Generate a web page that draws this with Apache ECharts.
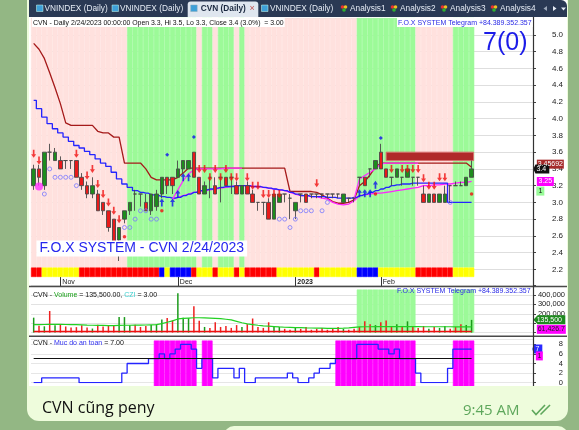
<!DOCTYPE html>
<html>
<head>
<meta charset="utf-8">
<script src="https://cdn.jsdelivr.net/npm/echarts/dist/echarts.min.js"></script>
<style>html,body{margin:0;padding:0;background:#fff;}#c{width:579px;height:430px;}</style>
</head>
<body>
<div id="c"></div>
<script>
const F = 'Liberation Sans, Arial, sans-serif';
const dates = ['10/25','10/26','10/27','10/28','10/31',
'11/1','11/2','11/3','11/4','11/7','11/8','11/9','11/10','11/11','11/14','11/15','11/16','11/17','11/18','11/21','11/22','11/23','11/24','11/25','11/28','11/29','11/30',
'12/1','12/2','12/5','12/6','12/7','12/8','12/9','12/12','12/13','12/14','12/15','12/16','12/19','12/20','12/21','12/22','12/23','12/26','12/27','12/28','12/29','12/30',
'1/3','1/4','1/5','1/6','1/9','1/10','1/11','1/12','1/13','1/16','1/17','1/18','1/19','1/27','1/30','1/31',
'2/1','2/2','2/3','2/6','2/7','2/8','2/9','2/10','2/13','2/14','2/15','2/16','2/17','2/20','2/21','2/22','2/23','2/24'];
const blankSlots = ['e1','e2','e3','e4','e5','e6','e7','e8','e9','e10','e11'];
const monthTicks = {'11/1':'Nov','12/1':'Dec','1/3':'2023','2/1':'Feb'};
const priceTicks = [2.2,2.4,2.6,2.8,3.0,3.2,3.4,3.6,3.8,4.0,4.2,4.4,4.6,4.8,5.0];
const volTicks = [200000,300000,400000];
const safeTicks = [0,2,4,6,8];

// [open, high, low, close]
const ohlc = [
[3.2,3.45,3.15,3.4],[3.4,3.45,3.2,3.3],[3.2,3.6,3.15,3.6],[3.6,3.7,3.5,3.6],[3.5,3.65,3.5,3.6],
[3.5,3.55,3.4,3.4],[3.5,3.5,3.4,3.5],[3.5,3.5,3.4,3.5],[3.5,3.5,3.3,3.3],[3.3,3.35,3.15,3.2],
[3.2,3.25,3.05,3.1],[3.1,3.3,3.05,3.2],[3.1,3.15,2.9,2.9],[3.0,3.0,2.85,2.9],[2.9,2.9,2.65,2.7],
[2.8,2.8,2.5,2.5],[2.55,2.7,2.3,2.7],[2.8,2.9,2.75,2.9],[2.9,3.0,2.85,3.0],[3.1,3.15,2.9,3.1],
[3.1,3.1,2.95,3.1],[3.0,3.1,2.9,2.9],[2.9,3.1,2.85,3.1],[2.95,3.15,2.9,3.1],[3.1,3.3,3.05,3.3],
[3.3,3.3,3.1,3.2],[3.3,3.3,3.1,3.2],[3.3,3.5,3.3,3.4],[3.4,3.5,3.35,3.5],[3.4,3.5,3.4,3.5],
[3.6,3.6,3.3,3.3],[3.3,3.3,3.1,3.1],[3.1,3.25,3.1,3.2],[3.3,3.3,3.05,3.3],[3.2,3.3,3.1,3.1],
[3.3,3.3,3.0,3.3],[3.3,3.3,3.2,3.2],[3.3,3.3,3.1,3.3],[3.2,3.25,3.1,3.1],[3.1,3.2,3.1,3.2],
[3.2,3.25,3.1,3.1],[3.1,3.15,3.0,3.0],[3.0,3.0,2.9,3.0],[3.0,3.0,2.85,3.0],[3.0,3.05,2.8,2.8],
[2.8,3.1,2.8,3.1],[3.0,3.1,3.0,3.1],[3.1,3.1,3.0,3.1],[3.05,3.1,2.8,3.05],[2.9,3.0,2.8,3.0],
[3.1,3.1,3.0,3.1],[3.1,3.1,3.0,3.0],[3.1,3.1,3.05,3.1],[3.1,3.1,3.05,3.1],[3.1,3.1,3.05,3.1],
[3.1,3.1,3.05,3.1],[3.1,3.1,3.05,3.1],[3.1,3.1,3.05,3.1],[3.0,3.1,3.0,3.1],[3.05,3.05,3.0,3.05],
[3.05,3.05,3.0,3.05],[3.3,3.3,3.2,3.3],[3.3,3.3,3.2,3.2],[3.4,3.4,3.3,3.4],[3.4,3.5,3.4,3.5],
[3.6,3.7,3.4,3.4],[3.4,3.4,3.3,3.3],[3.3,3.3,3.2,3.3],[3.3,3.4,3.3,3.4],[3.3,3.3,3.2,3.3],
[3.3,3.4,3.3,3.4],[3.3,3.3,3.2,3.3],[3.3,3.3,3.2,3.3],[3.1,3.2,3.0,3.0],[3.0,3.1,3.0,3.1],
[3.1,3.1,3.0,3.0],[3.0,3.1,3.0,3.1],[3.0,3.2,3.0,3.1],[3.2,3.2,3.0,3.2],[3.2,3.25,3.2,3.2],
[3.2,3.25,3.2,3.2],[3.2,3.3,3.2,3.3],[3.3,3.5,3.3,3.4]
];

const stopLine = [4.90,4.83,4.72,4.55,4.37,4.18,3.95,3.92,3.92,3.92, 3.92,3.92,3.85,3.83,3.83,3.78,3.78,3.47,3.47,3.47,
 3.47,3.40,3.30,3.27,3.27,3.27,3.27,3.30,3.35,3.41, 3.41,3.41,3.41,3.41,3.41,3.41,3.41,3.41,3.41,3.41,
 3.41,3.41,3.41,3.41,3.41,3.41,3.41,3.41,3.13,3.13, 3.13,3.13,3.13,3.12,3.09,3.05,3.01,2.99,2.99,3.00,
 3.03,3.20,3.25,3.33,3.42,3.47,3.47,3.47,3.47,3.47, 3.47,3.47,3.47,3.47,3.47,3.47,3.47,3.47,3.47,3.47,
 3.47,3.47,3.42];
const blueLine = [4.22,4.12,4.02,3.94,3.88,3.83,3.78,3.73,3.68,3.65, 3.61,3.57,3.52,3.47,3.43,3.36,3.28,3.22,3.18,3.14,
 3.12,3.11,3.09,3.08,3.07,3.06,3.05,3.06,3.08,3.10, 3.12,3.14,3.15,3.16,3.17,3.18,3.19,3.19,3.20,3.20,
 3.20,3.19,3.19,3.18,3.17,3.16,3.15,3.14,3.12,3.10, 3.08,3.08,3.07,3.07,3.07,3.06,3.06,3.05,3.05,3.05,
 3.06,3.08,3.10,3.12,3.14,3.16,3.18,3.20,3.21,3.22, 3.22,3.23,3.23,3.23,3.23,3.23,3.23,3.23,3.00,3.00,
 3.00,3.00,3.00];
const magentaLow = [null,null,null,null,null,null,null,null,null,null, null,null,null,null,null,null,null,null,null,null,
 null,null,null,null,null,null,3.04,3.06,3.08,3.10, 3.12,3.13,3.14,3.15,3.16,3.17,3.18,3.19,3.20,3.20,
 3.20,3.19,3.19,3.18,3.17,3.16,3.15,3.14,3.12,3.10, 3.08,3.08,3.07,3.07,3.05,3.04,3.00,2.98,2.97,2.98,
 3.02,3.08,3.09,3.10,3.11,3.11,3.12,3.13,3.14,3.15, 3.16,3.17,3.18,3.20,3.20,3.21,3.21,3.22,3.22,3.23,
 3.24,3.24,3.25];
const magentaHigh = [null,null,null,null,null,null,null,null,null,null, null,null,null,null,null,null,null,null,null,null,
 null,null,null,null,null,null,3.04,3.15,3.26,3.34, 3.39,3.40,3.40,3.40,3.40,3.40,3.41,3.41,3.41,3.41,
 null,null,null,null,null,null,null,null,null,null, null,null,null,null,null,null,null,null,null,null,
 3.04,3.28,3.32,3.36,3.40,3.46,3.47,3.47,3.47,3.47, 3.47,3.47,3.47,null,null,null,null,null,null,null,
 null,null,null];

const sellArrows = [[0,3.58],[1,3.50],[8,3.58],[10,3.32],[11,3.40],[12,3.22],[13,3.10],[14,3.00],[15,2.90],[16,2.80],
 [31,3.40],[32,3.40],[33,3.30],[34,3.40],[35,3.30],[36,3.40],[37,3.30],[38,3.30],[40,3.30],[41,3.20],[42,3.20],
 [43,3.10],[44,3.10],[45,3.10],[46,3.10],[53,3.23],[67,3.40],[69,3.40],[70,3.40],[71,3.40],[72,3.40],[73,3.29],
 [74,3.20],[75,3.20],[76,3.30],[77,3.30]];
const buyArrows = [[24,3.0],[26,3.0],[27,3.1],[28,3.3],[29,3.3],[61,3.11],[62,3.11],[63,3.11],[64,3.21]];
const blueDots = [[25,3.57],[30,3.78],[65,3.77]];
const redDots = [[17,2.59],[24,2.90],[64,3.10],[82,3.10]];
const hollowDots = [[2,3.10],[3,3.40],[4,3.30],[5,3.30],[6,3.30],[7,3.30],[8,3.20],[17,2.70],[18,2.70],[19,2.80],
 [20,2.90],[21,2.90],[22,2.80],[23,2.80],[46,2.80],[47,2.80],[48,2.70],[49,2.80],[50,2.90],[51,2.90],[52,2.90],
 [54,2.90],[55,3.00],[78,3.00]];
const bigDot = [[1,3.19]];
// [startBar, endBar, low, high]
const resistBox = [[66,82,3.50,3.60]];

const volume = [159,74,67,230,79,83,65,54,58,78, 54,43,83,65,74,79,165,165,79,83,
 60,70,80,90,140,154,130,418,159,154, 281,126,60,50,110,60,70,50,80,60,
 90,150,60,50,110,70,60,40,30,50, 40,60,30,40,50,30,40,60,40,30,
 40,60,120,90,80,110,130,60,90,60, 120,60,50,70,40,60,50,70,40,60,
 90,80,135.5];
const volAvg = [85,85,86,88,88,87,86,85,84,83, 80,78,77,76,75,75,77,78,78,79,
 80,81,83,85,95,110,125,145,152,155, 158,158,157,155,152,148,142,135,120,105,
 92,85,78,72,68,64,60,57,55,53, 52,50,49,48,47,46,46,46,47,50,
 55,60,62,62,63,63,64,64,64,63, 63,63,63,62,62,62,62,62,62,61,
 61,61,61.4267];
const safety = [0,0,1,1,1,1,1,1,1,0, 0,0,0,0,0,0,0,2,4,4, 4,4,5,5,6,5,6,7,8,8,
 7,3,5,5,1,3,3,3,1,3, 0,0,1,1,1,1,1,1,2,1, 0,0,1,2,3,3,4,5,5,5,
 5,8,8,8,8,7,7,6,7,5, 5,5,2,0,0,0,0,0,3,7, 7,7,7];

const zoneRuns = [['P',18],['G',13],['P',1],['G',2],['P',1],['G',3],['P',1],['G',1],['P',21],['G',11],['P',7],['G',4]];
const stripRuns = [['R',2],['Y',7],['R',15],['B',1],['Y',1],['B',4],['R',1],['Y',3],['R',1],['Y',3],['R',1],['Y',1],
 ['R',6],['Y',7],['R',1],['Y',7],['B',4],['Y',7],['R',7],['Y',4]];
const safeRuns = [[0,23],[1,8],[0,1],[1,2],[0,23],[1,15],[0,7],[1,4]];
const volZoneRuns = [[0,61],[1,11],[0,7],[1,4]];

function expand(runs){ const o=[]; runs.forEach(([c,n])=>{for(let k=0;k<n;k++)o.push(c);}); return o; }
const cats = dates.concat(blankSlots);
const N = dates.length;
const zoneCol = {P:'#ffe1de', G:'#9cfa98'};
const stripCol = {R:'#ff0000', Y:'#ffff00', B:'#0000ff'};
const bandData = (codes, map) => codes.map(c => map[c] ? {value:1, itemStyle:{color:map[c], borderColor:map[c], borderWidth:0.6}} : {value:0});

const candleData = ohlc.map(d => [d[0], d[3], d[2], d[1]]);
const volData = volume.map((v,i) => ({value: v*1000, itemStyle:{color: ohlc[i][3] > ohlc[i][0] ? '#1b9a1b' : '#ee2020'}}));
const lastIdx = cats.length - 1;

const hiddenX = (gi) => ({type:'category', gridIndex:gi, data:cats, show:false, boundaryGap:true});
const hiddenY = (gi) => ({type:'value', gridIndex:gi, min:0, max:1, show:false});
const lbl = (size) => ({fontFamily:F, fontSize:size, color:'#222'});
const tagLabel = (txt, col) => ({show:true, position:'inside', formatter:txt, color:col, fontSize:7, fontFamily:F});
const pointer = 'path://M0,5 L4,0 L30,0 L30,10 L4,10 Z';

const option = {
 animation:false,
 backgroundColor:'#ffffff',
 grid:[
  {left:31, top:18.26, width:502, height:267.84},
  {left:31, top:18, width:502, height:249.5},
  {left:31, top:267.5, width:502, height:9.5},
  {left:31, top:285.6, width:502, height:47},
  {left:31, top:289.5, width:502, height:43.1},
  {left:31, top:339.5, width:502, height:43.2},
  {left:31, top:340.5, width:502, height:46.5}
 ],
 xAxis:[
  hiddenX(0), hiddenX(1),
  {type:'category', gridIndex:2, data:cats, boundaryGap:true,
   axisLine:{show:false},
   axisTick:{show:true, alignWithLabel:true, length:9, interval:(i,v)=>!!monthTicks[v], lineStyle:{color:'#333', width:1}},
   axisLabel:{show:true, interval:0, align:'left', margin:2, padding:[0,0,0,2], fontFamily:F, fontSize:7, color:'#222',
     formatter:(v)=> monthTicks[v] ? (monthTicks[v]==='2023' ? '{b|2023}' : monthTicks[v]) : '',
     rich:{b:{fontWeight:'bold', fontFamily:F, fontSize:7, color:'#222'}}}},
  hiddenX(3), hiddenX(4), hiddenX(5), hiddenX(6)
 ],
 yAxis:[
  {type:'value', gridIndex:0, position:'right', min:2.0, max:5.2, interval:0.2,
   axisLine:{show:false}, axisTick:{show:true, length:3, lineStyle:{color:'#444'}},
   splitLine:{show:true, lineStyle:{color:'#dedede', width:1}},
   axisLabel:Object.assign(lbl(8), {align:'right', margin:30, showMinLabel:false, showMaxLabel:false,
     formatter:(v)=> priceTicks.some(t=>Math.abs(t-v)<1e-6) ? v.toFixed(1) : ''})},
  hiddenY(1), hiddenY(2),
  {type:'value', gridIndex:3, position:'right', min:0, max:500000, interval:100000,
   axisLine:{show:false}, axisTick:{show:true, length:3, lineStyle:{color:'#444'}},
   splitLine:{show:true, lineStyle:{color:'#e2e2e2'}},
   axisLabel:Object.assign(lbl(7.5), {align:'right', margin:32,
     formatter:(v)=> volTicks.indexOf(v)>=0 ? v.toLocaleString('en-US') : ''})},
  hiddenY(4),
  {type:'value', gridIndex:5, position:'right', min:0, max:9, interval:2,
   axisLine:{show:false}, axisTick:{show:true, length:3, lineStyle:{color:'#444'}},
   splitLine:{show:true, lineStyle:{color:'#e6e6e6'}},
   axisLabel:Object.assign(lbl(7.5), {align:'right', margin:30, showMaxLabel:false,
     formatter:(v)=> safeTicks.indexOf(v)>=0 ? String(v) : ''})},
  hiddenY(6)
 ],
 series:[
  {type:'bar', xAxisIndex:1, yAxisIndex:1, data:bandData(expand(zoneRuns), zoneCol), barWidth:'100%', barCategoryGap:0, silent:true, z:1},
  {type:'bar', xAxisIndex:2, yAxisIndex:2, data:bandData(expand(stripRuns), stripCol), barWidth:'100%', barCategoryGap:0, silent:true, z:1},
  {type:'bar', xAxisIndex:4, yAxisIndex:4, data:bandData(expand(volZoneRuns), {1:'#9cfa98'}), barWidth:'100%', barCategoryGap:0, silent:true, z:1},
  {type:'bar', xAxisIndex:6, yAxisIndex:6, data:bandData(expand(safeRuns), {1:'#ff00ff'}), barWidth:'100%', barCategoryGap:0, silent:true, z:1},
  {type:'custom', xAxisIndex:0, yAxisIndex:0, data:resistBox, z:3, silent:true, clip:false,
   encode:{x:[0,1], y:[2,3]},
   renderItem:(params, api) => {
     const p1 = api.coord([api.value(0), api.value(3)]);
     const p2 = api.coord([api.value(1), api.value(2)]);
     return {type:'rect', shape:{x:p1[0], y:p1[1], width:p2[0]-p1[0]+2, height:p2[1]-p1[1]},
       style:{fill:'#b02a2a', stroke:'#d87070', lineWidth:1}};
   }},
  {type:'line', xAxisIndex:0, yAxisIndex:0, data:stopLine, showSymbol:false, lineStyle:{color:'#a51a1a', width:1.3}, z:3,
   markPoint:{symbol:'rect', data:[
     {coord:[lastIdx, 3.45692], symbolSize:[27,9], symbolOffset:[20,0], itemStyle:{color:'#a52a2a'}, label:tagLabel('3.45692','#fff')},
     {coord:[lastIdx, 3.4], symbol:pointer, symbolKeepAspect:false, symbolSize:[16,9], symbolOffset:[11,0], itemStyle:{color:'#111'}, label:tagLabel('3.4','#fff')},
     {coord:[lastIdx, 3.25], symbolSize:[17,9], symbolOffset:[15,0], itemStyle:{color:'#ff00ff'}, label:tagLabel('3.25','#fff')},
     {coord:[lastIdx, 3.135], symbolSize:[8,9], symbolOffset:[10,0], itemStyle:{color:'#98fb98'}, label:tagLabel('1','#111')}
   ]}},
  {type:'line', xAxisIndex:0, yAxisIndex:0, data:magentaLow, showSymbol:false, connectNulls:false, lineStyle:{color:'#ff22ff', width:1.3}, z:3},
  {type:'line', xAxisIndex:0, yAxisIndex:0, data:blueLine, showSymbol:false, step:'middle', lineStyle:{color:'#2424ff', width:1.3}, z:4},
  {type:'line', xAxisIndex:0, yAxisIndex:0, data:magentaHigh, showSymbol:false, connectNulls:false, lineStyle:{color:'#ff33ff', width:1.3}, z:4},
  {type:'candlestick', xAxisIndex:0, yAxisIndex:0, data:candleData, barWidth:4, z:5,
   itemStyle:{color:'#1d8c1d', color0:'#e81a1a', borderColor:'#4a4a4a', borderColor0:'#4a4a4a', borderWidth:0.9}},
  {type:'scatter', xAxisIndex:0, yAxisIndex:0, data:sellArrows, symbol:'path://M2,0 L4,0 L4,5 L6,5 L3,9 L0,5 L2,5 Z', symbolSize:[5,8], itemStyle:{color:'#f01010'}, z:6},
  {type:'scatter', xAxisIndex:0, yAxisIndex:0, data:buyArrows, symbol:'path://M3,0 L6,4 L4,4 L4,9 L2,9 L2,4 L0,4 Z', symbolSize:[5,8], itemStyle:{color:'#1010f0'}, z:6},
  {type:'scatter', xAxisIndex:0, yAxisIndex:0, data:blueDots, symbol:'diamond', symbolSize:4, itemStyle:{color:'#1010f0'}, z:6},
  {type:'scatter', xAxisIndex:0, yAxisIndex:0, data:redDots, symbol:'circle', symbolSize:3.5, itemStyle:{color:'#f01010'}, z:6},
  {type:'scatter', xAxisIndex:0, yAxisIndex:0, data:hollowDots, symbol:'circle', symbolSize:4, itemStyle:{color:'rgba(0,0,0,0)', borderColor:'#7a7aff', borderWidth:1}, z:6},
  {type:'scatter', xAxisIndex:0, yAxisIndex:0, data:bigDot, symbol:'circle', symbolSize:8, itemStyle:{color:'#ff33ff'}, z:6},
  {type:'bar', xAxisIndex:3, yAxisIndex:3, data:volData, barWidth:1.5, z:3,
   markLine:{silent:true, symbol:'none', label:{show:false}, lineStyle:{color:'#ee1010', width:1.3, type:'solid'},
     data:[[{coord:[0,10000]},{coord:[N-1,10000]}]]},
   markPoint:{data:[
     {coord:[lastIdx, 135500], symbol:pointer, symbolKeepAspect:false, symbolSize:[32,9], symbolOffset:[19,0], itemStyle:{color:'#1f8a1f'}, label:tagLabel('135,500','#fff')},
     {coord:[lastIdx, 61426.7], symbol:'rect', symbolSize:[29,9], symbolOffset:[21,2.5], itemStyle:{color:'#ff00ff'}, label:tagLabel('61,426.7','#222')}
   ]}},
  {type:'line', xAxisIndex:3, yAxisIndex:3, data:volAvg.map(v=>v*1000), showSymbol:false, lineStyle:{color:'#22d022', width:1.2}, z:4},
  {type:'line', xAxisIndex:5, yAxisIndex:5, data:safety, showSymbol:false, step:'middle', lineStyle:{color:'#2424ff', width:1.3}, z:4,
   markLine:{silent:true, symbol:'none', label:{show:false}, lineStyle:{color:'#111', width:1.2, type:'solid'},
     data:[[{coord:[0,5]},{coord:[N-1,5]}]]},
   markPoint:{data:[
     {coord:[lastIdx, 7], symbol:pointer, symbolKeepAspect:false, symbolSize:[10,9], symbolOffset:[7,0], itemStyle:{color:'#2a2aff'}, label:tagLabel('7','#fff')},
     {coord:[lastIdx, 1], symbol:'rect', symbolSize:[7,9], symbolOffset:[9,-22], itemStyle:{color:'#ff00ff'}, label:tagLabel('1','#222')}
   ]}}
 ],
 graphic:[
  {type:'rect', z:100, shape:{x:29,y:0,width:538,height:17,r:[0,6,0,0]}, style:{fill:'#2a3954'}},
  {type:'rect', z:101, shape:{x:187.7,y:1.5,width:70.6,height:15.5,r:[3,3,0,0]}, style:{fill:'#dfe6ef'}},
  {type:'rect', z:102, shape:{x:36.5,y:5,width:6.5,height:6.5}, style:{fill:'#3ea0d8', stroke:'#cfe', lineWidth:0.5}},
  {type:'rect', z:102, shape:{x:112,y:5,width:6.5,height:6.5}, style:{fill:'#3ea0d8', stroke:'#cfe', lineWidth:0.5}},
  {type:'rect', z:102, shape:{x:190.7,y:5,width:6.5,height:6.5}, style:{fill:'#3ea0d8', stroke:'#8ab', lineWidth:0.5}},
  {type:'rect', z:102, shape:{x:261.5,y:5,width:6.5,height:6.5}, style:{fill:'#3ea0d8', stroke:'#cfe', lineWidth:0.5}},
  {type:'text', z:102, x:44.5, y:9, style:{text:'VNINDEX (Daily)', fill:'#e6ecf5', font:'8.3px '+F, verticalAlign:'middle'}},
  {type:'text', z:102, x:120, y:9, style:{text:'VNINDEX (Daily)', fill:'#e6ecf5', font:'8.3px '+F, verticalAlign:'middle'}},
  {type:'text', z:102, x:200.7, y:9, style:{text:'CVN (Daily)', fill:'#1a2840', font:'bold 8.3px '+F, verticalAlign:'middle'}},
  {type:'text', z:102, x:249.5, y:8.5, style:{text:'×', fill:'#c25555', font:'9px '+F, verticalAlign:'middle'}},
  {type:'text', z:102, x:270, y:9, style:{text:'VNINDEX (Daily)', fill:'#e6ecf5', font:'8.3px '+F, verticalAlign:'middle'}},
  {type:'circle', z:102, shape:{cx:342.5,cy:7,r:1.8}, style:{fill:'#e83030'}},
  {type:'circle', z:102, shape:{cx:345.5,cy:7,r:1.8}, style:{fill:'#f0c020'}},
  {type:'circle', z:102, shape:{cx:344,cy:10,r:1.8}, style:{fill:'#30b030'}},
  {type:'text', z:102, x:350, y:9, style:{text:'Analysis1', fill:'#e6ecf5', font:'8.3px '+F, verticalAlign:'middle'}},
  {type:'circle', z:102, shape:{cx:392.5,cy:7,r:1.8}, style:{fill:'#e83030'}},
  {type:'circle', z:102, shape:{cx:395.5,cy:7,r:1.8}, style:{fill:'#f0c020'}},
  {type:'circle', z:102, shape:{cx:394,cy:10,r:1.8}, style:{fill:'#30b030'}},
  {type:'text', z:102, x:400, y:9, style:{text:'Analysis2', fill:'#e6ecf5', font:'8.3px '+F, verticalAlign:'middle'}},
  {type:'circle', z:102, shape:{cx:442.5,cy:7,r:1.8}, style:{fill:'#e83030'}},
  {type:'circle', z:102, shape:{cx:445.5,cy:7,r:1.8}, style:{fill:'#f0c020'}},
  {type:'circle', z:102, shape:{cx:444,cy:10,r:1.8}, style:{fill:'#30b030'}},
  {type:'text', z:102, x:450, y:9, style:{text:'Analysis3', fill:'#e6ecf5', font:'8.3px '+F, verticalAlign:'middle'}},
  {type:'circle', z:102, shape:{cx:492.5,cy:7,r:1.8}, style:{fill:'#e83030'}},
  {type:'circle', z:102, shape:{cx:495.5,cy:7,r:1.8}, style:{fill:'#f0c020'}},
  {type:'circle', z:102, shape:{cx:494,cy:10,r:1.8}, style:{fill:'#30b030'}},
  {type:'text', z:102, x:500, y:9, style:{text:'Analysis4', fill:'#e6ecf5', font:'8.3px '+F, verticalAlign:'middle'}},
  {type:'polygon', z:102, shape:{points:[[547,6],[547,11],[543.5,8.5]]}, style:{fill:'#9aa6b8'}},
  {type:'polygon', z:102, shape:{points:[[553,6],[553,11],[556.5,8.5]]}, style:{fill:'#e6ecf5'}},
  {type:'polygon', z:102, shape:{points:[[561,7.5],[566,7.5],[563.5,10.5]]}, style:{fill:'#e6ecf5'}},
  {type:'text', z:100, x:32, y:22.6, style:{text:'CVN - Daily 2/24/2023 00:00:00 Open 3.3, Hi 3.5, Lo 3.3, Close 3.4 (3.0%)  = 3.00', fill:'#111', font:'6.9px '+F, verticalAlign:'middle', backgroundColor:'#fff', padding:[1,1,1,1]}},
  {type:'text', z:100, x:397, y:22.6, style:{text:'F.O.X SYSTEM Telegram +84.389.352.357', fill:'#2a2ae6', font:'7px '+F, verticalAlign:'middle', backgroundColor:'#fff', padding:[1,1,1,1]}},
  {type:'text', z:100, x:483, y:43, style:{text:'7(0)', fill:'#1c1ce8', font:'25px '+F, verticalAlign:'middle'}},
  {type:'text', z:100, x:36.5, y:248.5, style:{text:'F.O.X SYSTEM - CVN 2/24/2023', fill:'#2626ee', font:'14px '+F, verticalAlign:'middle', backgroundColor:'#fff', padding:[1,3,1,3]}},
  {type:'text', z:100, x:33, y:295, style:{text:'{k|CVN - }{g|Volume}{k| = 135,500.00, }{c|CZI}{k| = 3.00}', font:'7px '+F, verticalAlign:'middle',
     rich:{k:{fill:'#111', fontSize:7, fontFamily:F}, g:{fill:'#18a018', fontSize:7, fontFamily:F}, c:{fill:'#3ccfcf', fontSize:7, fontFamily:F}}}},
  {type:'text', z:100, x:397, y:291, style:{text:'F.O.X SYSTEM Telegram +84.389.352.357', fill:'#2a2ae6', font:'7px '+F, verticalAlign:'middle'}},
  {type:'text', z:100, x:33, y:343, style:{text:'{k|CVN - }{b|Muc do an toan}{k| = 7.00}', font:'7px '+F, verticalAlign:'middle',
     rich:{k:{fill:'#111', fontSize:7, fontFamily:F}, b:{fill:'#3030f0', fontSize:7, fontFamily:F}}}},
  {type:'line', z:99, shape:{x1:29,y1:286.5,x2:567,y2:286.5}, style:{stroke:'#4a4a4a', lineWidth:1.5}},
  {type:'line', z:99, shape:{x1:29,y1:336.3,x2:567,y2:336.3}, style:{stroke:'#4a4a4a', lineWidth:1.5}},
  {type:'line', z:99, shape:{x1:533.5,y1:17,x2:533.5,y2:387}, style:{stroke:'#333', lineWidth:1.2}},
  {type:'rect', z:110, shape:{x:0,y:0,width:27,height:430}, style:{fill:'#93b784'}},
  {type:'rect', z:110, shape:{x:568,y:0,width:11,height:430}, style:{fill:'#93b784'}},
  {type:'rect', z:110, shape:{x:27,y:387,width:541,height:43}, style:{fill:'#93b784'}},
  {type:'rect', z:111, shape:{x:27,y:0,width:2,height:390}, style:{fill:'#eefcdc'}},
  {type:'rect', z:111, shape:{x:567,y:0,width:1,height:390}, style:{fill:'#eefcdc'}},
  {type:'rect', z:111, shape:{x:27,y:386,width:541,height:35,r:[0,0,12,12]}, style:{fill:'#eefcdc'}},
  {type:'rect', z:111, shape:{x:224,y:426,width:344,height:20,r:10}, style:{fill:'#eefcdc'}},
  {type:'text', z:112, x:42, y:408, style:{text:'CVN cũng peny', fill:'#111', font:'16px Open Sans, '+F, verticalAlign:'middle'}},
  {type:'text', z:112, x:463, y:410.5, style:{text:'9:45 AM', fill:'#5ea75c', font:'15px Open Sans, '+F, verticalAlign:'middle'}},
  {type:'polyline', z:112, shape:{points:[[532,410],[536,414.5],[545,405]]}, style:{stroke:'#5ea75c', lineWidth:1.6, fill:null}},
  {type:'polyline', z:112, shape:{points:[[540.5,414.5],[550,405]]}, style:{stroke:'#5ea75c', lineWidth:1.6, fill:null}}
 ]
};
const chart = echarts.init(document.getElementById('c'), null, {width:579, height:430});
chart.setOption(option);
</script>
</body>
</html>
